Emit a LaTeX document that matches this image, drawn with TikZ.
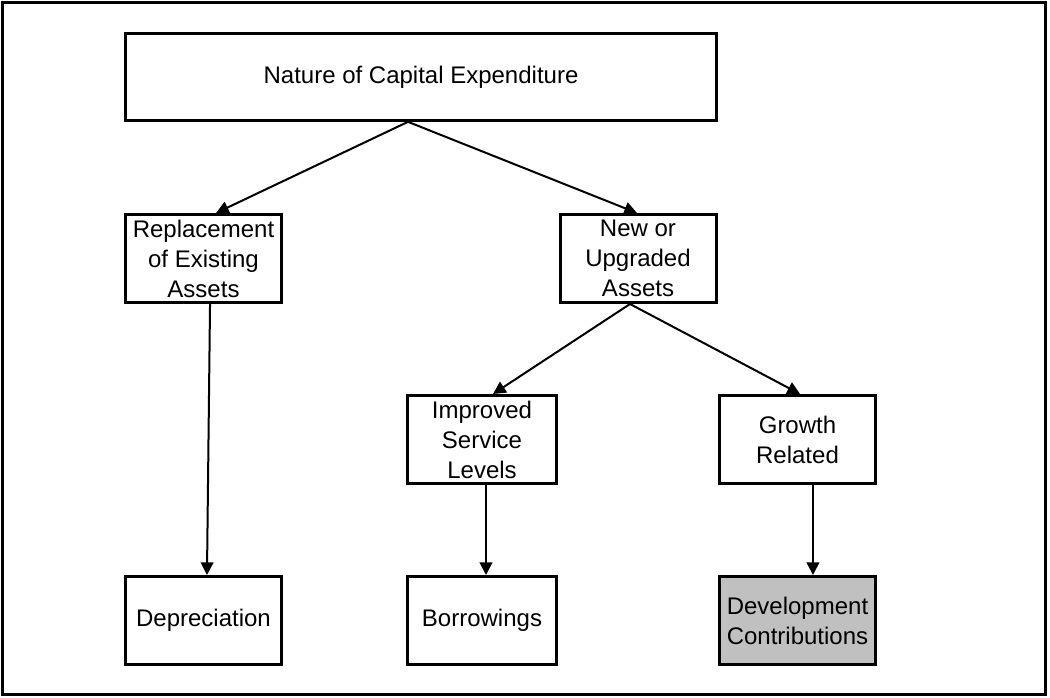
\documentclass[tikz,border=0pt]{standalone}
\usepackage{fontspec}
\setmainfont{Liberation Sans}
\usetikzlibrary{arrows.meta}

\definecolor{devgrey}{RGB}{192,192,192}

\tikzset{
  box/.style={draw, line width=2.25pt, inner sep=0pt, align=center,
    minimum width=117pt, minimum height=66pt,
    font=\fontsize{18}{22.5}\selectfont},
  arr/.style={-{Triangle[length=9.5pt,width=9.5pt]}, line width=1.5pt},
}

\begin{document}
\begin{tikzpicture}[x=0.75pt,y=-0.75pt]
\useasboundingbox (0,0) rectangle (1050,697);
\draw[line width=2.25pt] (2.5,2.5) rectangle (1045,694);

\node[box, minimum width=443pt, minimum height=65pt] (nature) at (421,77) {Nature of Capital Expenditure};
\node[box] (replace) at (203.5,258.5) {Replacement\\of Existing\\Assets};
\node[box] (newup) at (638,258.5) {New or\\Upgraded\\Assets};
\node[box, minimum width=112pt] (service) at (482,439.5) {Improved\\Service\\Levels};
\node[box] (growth) at (797.5,439.5) {Growth\\Related};
\node[box] (depr) at (203.5,620.5) {Depreciation};
\node[box, minimum width=112pt] (borrow) at (482,620.5) {Borrowings};
\node[box, fill=devgrey] (devcon) at (797.5,620.5) {Development\\Contributions};

\draw[arr] ([xshift=-9.75pt]nature.south) -- ([xshift=9.4pt]replace.north);
\draw[arr] ([xshift=-9.75pt]nature.south) -- ([xshift=-0.75pt]newup.north);
\draw[arr] ([xshift=4.9pt]replace.south) -- ([xshift=2.6pt]depr.north);
\draw[arr] ([xshift=-6pt]newup.south) -- ([xshift=8.25pt]service.north);
\draw[arr] ([xshift=-6pt]newup.south) -- ([xshift=1.9pt]growth.north);
\draw[arr] ([xshift=3pt]service.south) -- ([xshift=3pt]borrow.north);
\draw[arr] ([xshift=11.6pt]growth.south) -- ([xshift=11.6pt]devcon.north);
\end{tikzpicture}
\end{document}
